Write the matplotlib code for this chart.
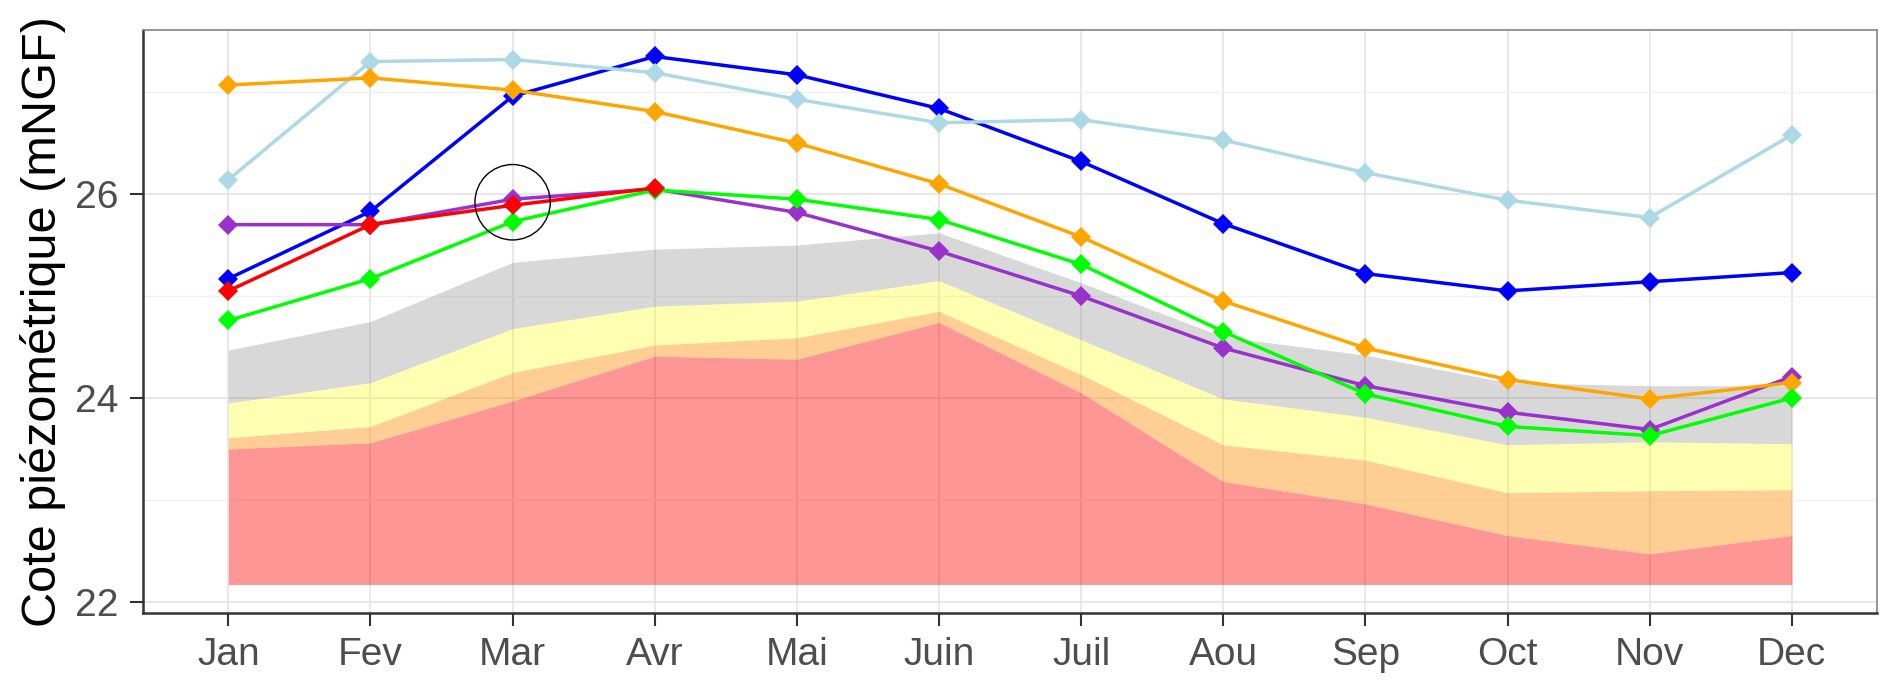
import numpy as np
import matplotlib.pyplot as plt
from matplotlib.patches import Ellipse

""" data read off the chart """
months = ['Jan', 'Fev', 'Mar', 'Avr', 'Mai', 'Juin', 'Juil', 'Aou', 'Sep', 'Oct', 'Nov', 'Dec']

# reference bands (bottom -> top)
band_base = [22.17] * 12
red_top = [23.50, 23.56, 23.97, 24.41, 24.38, 24.74, 24.05, 23.18, 22.96, 22.65, 22.47, 22.65]
orange_top = [23.61, 23.72, 24.25, 24.52, 24.59, 24.85, 24.23, 23.54, 23.39, 23.07, 23.09, 23.10]
yellow_top = [23.95, 24.15, 24.68, 24.90, 24.95, 25.15, 24.57, 23.99, 23.81, 23.54, 23.57, 23.55]
grey_top = [24.47, 24.75, 25.33, 25.46, 25.50, 25.62, 25.13, 24.60, 24.42, 24.15, 24.12, 24.12]

# yearly series
s_blue = [25.17, 25.83, 26.96, 27.35, 27.17, 26.84, 26.32, 25.71, 25.22, 25.05, 25.14, 25.23]
s_lightblue = [26.14, 27.30, 27.32, 27.19, 26.93, 26.70, 26.73, 26.53, 26.21, 25.94, 25.77, 26.58]
s_purple = [25.70, 25.70, 25.95, 26.05, 25.82, 25.44, 25.00, 24.49, 24.12, 23.86, 23.69, 24.21]
s_orange = [27.07, 27.14, 27.02, 26.81, 26.50, 26.10, 25.58, 24.95, 24.49, 24.18, 23.99, 24.15]
s_green = [24.76, 25.17, 25.73, 26.04, 25.95, 25.75, 25.31, 24.65, 24.04, 23.72, 23.63, 24.00]
s_red = [25.05, 25.70, 25.89, 26.06]   # only Jan -> Avr

# highlighted point
circle_month = 2
circle_level = 25.92

plt.rcParams['font.family'] = ['Liberation Sans', 'DejaVu Sans']

x = np.arange(len(months))

fig = plt.figure(figsize=(18.85, 6.83), dpi=100)
ax = fig.add_axes([0.0759, 0.1025, 0.9199, 0.8536])

# bands
ax.fill_between(x, band_base, red_top, color='red', alpha=0.41, lw=0, zorder=2)
ax.fill_between(x, red_top, orange_top, color='#FF8C00', alpha=0.42, lw=0, zorder=2)
ax.fill_between(x, orange_top, yellow_top, color='yellow', alpha=0.30, lw=0, zorder=2)
ax.fill_between(x, yellow_top, grey_top, color='grey', alpha=0.30, lw=0, zorder=2)

# lines
series = [(s_blue, '#0000FF'), (s_lightblue, '#ADD8E6'), (s_purple, '#9932CC'),
          (s_orange, '#FFA500'), (s_green, '#00FF00'), (s_red, '#FF0000')]
for i, (vals, col) in enumerate(series):
    ax.plot(x[:len(vals)], vals, color=col, lw=2.5, marker='D', ms=10,
            markeredgewidth=0, zorder=3 + i)

ax.add_patch(Ellipse((circle_month, circle_level), width=0.53, height=0.74,
                     fill=False, edgecolor='black', lw=1.0, zorder=10))

# axes
ax.set_xlim(-0.6, 11.6)
ax.set_ylim(21.89, 27.61)
ax.set_xticks(x)
ax.set_xticklabels(months)
ax.set_yticks([22, 24, 26])
ax.set_yticks([23, 25, 27], minor=True)

ax.grid(which='major', color='#E6E6E6', lw=1.3, zorder=0)
ax.grid(which='minor', axis='y', color='#F0F0F0', lw=1.0, zorder=0)
ax.set_axisbelow(True)

ax.tick_params(axis='both', which='major', length=9.5, width=1.5, color='#333333',
               labelsize=28, labelcolor='#4D4D4D', pad=8)
ax.tick_params(axis='y', which='minor', length=0)

for side in ['top', 'right']:
    ax.spines[side].set_color('#8C8C8C')
    ax.spines[side].set_linewidth(1.3)
for side in ['left', 'bottom']:
    ax.spines[side].set_color('#333333')
    ax.spines[side].set_linewidth(1.8)

ax.set_ylabel('Cote piézométrique (mNGF)', fontsize=35, color='black')
ax.yaxis.set_label_coords(-0.0444, 0.5)

fig.savefig('out.png', dpi=100)
